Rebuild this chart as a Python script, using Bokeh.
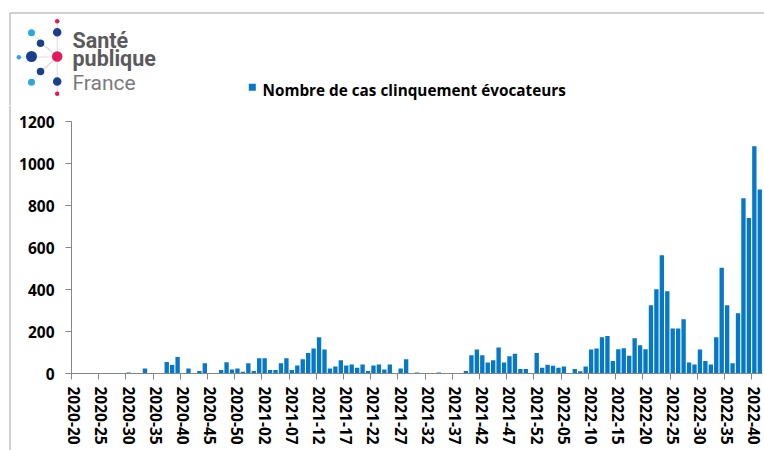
from bokeh.plotting import figure
from bokeh.models import Range1d, FixedTicker, ColumnDataSource
from bokeh.layouts import column, row
from bokeh.embed import file_html
from bokeh.resources import INLINE
from bokeh.core.properties import value

# ---------------- data ----------------
years = [2020, 2021, 2022]
first_week = [20, 1, 1]
last_week = [53, 52, 41]
weeks = [f"{y}-{w:02d}" for y, a, b in zip(years, first_week, last_week) for w in range(a, b + 1)]

cases = [
    0, 0, 0, 0, 0, 0, 0, 0, 0, 0,          # 2020-20 .. 2020-29
    5, 0, 0, 24, 0, 0, 0, 55, 40, 79,      # 2020-30 .. 2020-39
    0, 24, 0, 12, 49, 0, 0, 17, 54, 19,    # 2020-40 .. 2020-49
    24, 8, 49, 12,                         # 2020-50 .. 2020-53
    73, 73, 17, 17, 49, 73, 17, 38, 68, 98,        # 2021-01 .. 2021-10
    119, 173, 114, 24, 33, 63, 38, 43, 27, 43,     # 2021-11 .. 2021-20
    12, 38, 43, 19, 43, 0, 24, 68, 0, 5,           # 2021-21 .. 2021-30
    0, 0, 0, 5, 0, 0, 0, 0, 12, 87,                # 2021-31 .. 2021-40
    114, 87, 52, 63, 124, 52, 82, 94, 22, 22,      # 2021-41 .. 2021-50
    0, 98,                                         # 2021-51 .. 2021-52
    27, 42, 37, 27, 33, 0, 22, 11, 33, 114,        # 2022-01 .. 2022-10
    119, 173, 179, 60, 115, 120, 84, 168, 134, 116,  # 2022-11 .. 2022-20
    325, 401, 563, 392, 214, 214, 258, 52, 43, 114,  # 2022-21 .. 2022-30
    60, 43, 173, 503, 325, 49, 287, 835, 740, 1082,  # 2022-31 .. 2022-40
    876,                                           # 2022-41
]

series_name = "Nombre de cas clinquement évocateurs"
y_ticks = [0, 200, 400, 600, 800, 1000, 1200]
label_step = 5

# ---------------- styles ----------------
BAR = "#0579C6"
AXIS = "#868686"
FRAME = "#c0c0c0"
FONT = "Open Sans"

# ---------------- header (logo + legend) ----------------
HW, HH = 764, 105
h = figure(width=HW, height=HH, x_range=Range1d(0, HW), y_range=Range1d(HH, 0),
           output_backend="svg", toolbar_location=None, min_border=0,
           min_border_left=0, min_border_right=0, min_border_top=0, min_border_bottom=0,
           x_axis_location=None, y_axis_location=None)
h.frame_align = False
h.grid.visible = False
h.outline_line_color = None

# chart-area border (top + left)
h.segment(x0=[9.5, 9.5], y0=[12.5, 12.5], x1=[HW, 9.5], y1=[12.5, HH],
          line_color=FRAME, line_width=1.5)

# logo connections
cx, cy = 56.7, 56
h.segment(x0=[56.7, 18, cx, cx, cx, cx], y0=[20, 56.5, cy, cy, cy, cy],
          x1=[56.7, 56.7, 31, 40, 40, 31], y1=[93, 56.5, 32.3, 42.7, 71, 81.7],
          line_color="#dcdcdc", line_width=1)
dots_x = [56.7, 56.7, 31, 40, 31, 18.3, 56.7, 40, 31, 56.7, 56.7]
dots_y = [20.7, 31.7, 32.3, 42.7, 56, 56.7, 56, 71, 81.7, 81, 93.3]
dots_s = [4.5, 8.5, 7, 7.5, 11, 4.5, 10.5, 7.5, 7, 8.5, 4.5]
dots_c = ["#e5185d", "#1b3f8b", "#2aa8df", "#1b3f8b", "#1b3f8b", "#2aa8df",
          "#e5185d", "#1b3f8b", "#2aa8df", "#1b3f8b", "#e5185d"]
h.scatter(x=dots_x, y=dots_y, size=dots_s, fill_color=dots_c, line_color=None)

h.text(x=[72], y=[39.5], text=["Santé"], text_font=value("Roboto"), text_font_style="bold",
       text_font_size="21.5px", text_color="#5a5a5c", text_baseline="alphabetic")
h.text(x=[72], y=[58], text=["publique"], text_font=value("Roboto"), text_font_style="bold",
       text_font_size="21.5px", text_color="#5a5a5c", text_baseline="alphabetic")
h.text(x=[72], y=[82.5], text=["France"], text_font=value("Roboto"),
       text_font_size="21px", text_color="#7a7a7d", text_baseline="alphabetic")

# legend
h.quad(left=[248.3], right=[255.3], top=[83.3], bottom=[90.3], fill_color=BAR, line_color=None)
h.text(x=[262], y=[89.5], text=[series_name], text_font=value(FONT), text_font_style="bold",
       text_font_size="15.3px", text_color="black", text_baseline="alphabetic")

# ---------------- left border strip ----------------
SW, MH = 12, 450 - HH
s = figure(width=SW, height=MH, x_range=Range1d(0, SW), y_range=Range1d(0, MH),
           output_backend="svg", toolbar_location=None, min_border=0,
           min_border_left=0, min_border_right=0, min_border_top=0, min_border_bottom=0,
           x_axis_location=None, y_axis_location=None)
s.frame_align = False
s.grid.visible = False
s.outline_line_color = None
s.segment(x0=[9.5], y0=[0], x1=[9.5], y1=[MH], line_color=FRAME, line_width=1.5)

# ---------------- main chart ----------------
n = len(weeks)
src = ColumnDataSource(dict(x=list(range(n)), top=cases, week=weeks))

p = figure(width=HW - SW, height=MH, x_range=Range1d(-0.5, n - 0.5), y_range=Range1d(0, 1200),
           output_backend="svg", toolbar_location=None,
           min_border_left=59, min_border_right=2, min_border_top=16, min_border_bottom=77)
p.frame_align = False
p.vbar(x="x", top="top", width=0.8, source=src, fill_color=BAR, line_color=None)

p.grid.visible = False
p.outline_line_color = None

label_idx = list(range(0, n, label_step))
bounds = [i - 0.5 for i in label_idx]
xa = p.xaxis[0]
xa.ticker = FixedTicker(ticks=label_idx, minor_ticks=bounds)
xa.major_label_overrides = {i: weeks[i] for i in label_idx}
xa.major_label_orientation = "vertical"
xa.major_tick_line_color = None
xa.major_tick_out = 0
xa.major_tick_in = 0
xa.minor_tick_line_color = AXIS
xa.minor_tick_out = 6
xa.minor_tick_in = 0
xa.major_label_standoff = 7
xa.axis_line_color = AXIS
xa.major_label_text_font = FONT
xa.major_label_text_font_style = "bold"
xa.major_label_text_font_size = "15.5px"
xa.major_label_text_color = "black"

ya = p.yaxis[0]
ya.ticker = FixedTicker(ticks=y_ticks, minor_ticks=[])
ya.major_tick_out = 6
ya.major_tick_in = 0
ya.major_tick_line_color = AXIS
ya.axis_line_color = AXIS
ya.major_label_standoff = 11
ya.major_label_text_font = FONT
ya.major_label_text_font_style = "bold"
ya.major_label_text_font_size = "15.5px"
ya.major_label_text_color = "black"

layout = column(h, row(s, p, spacing=0), spacing=0)
open("out.html", "w").write(file_html(layout, INLINE))
